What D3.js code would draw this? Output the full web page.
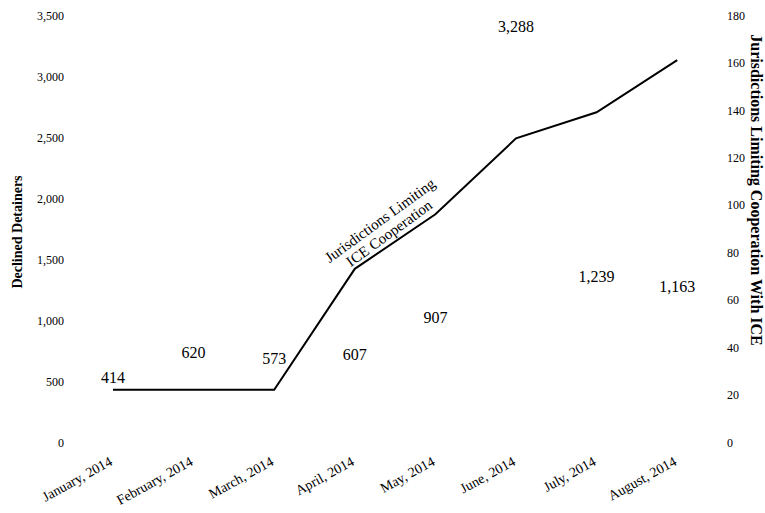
<!DOCTYPE html>
<html>
<head>
<meta charset="utf-8">
<script src="https://cdn.jsdelivr.net/npm/d3@7"></script>
<style>
  html, body { margin: 0; padding: 0; background: #fff; }
  svg { display: block; }
  text { font-family: "Liberation Serif", "DejaVu Serif", serif; fill: #000; }
</style>
</head>
<body>
<svg id="chart" width="765" height="513"></svg>
<script>
const months = ["January, 2014", "February, 2014", "March, 2014", "April, 2014",
                "May, 2014", "June, 2014", "July, 2014", "August, 2014"];
const declinedDetainers = [414, 620, 573, 607, 907, 3288, 1239, 1163];
const jurisdictions = [22, 22, 22, 73, 96, 128, 139, 161];
const leftTicks = [0, 500, 1000, 1500, 2000, 2500, 3000, 3500];
const rightTicks = [0, 20, 40, 60, 80, 100, 120, 140, 160, 180];
const leftTitle = "Declined Detainers";
const rightTitle = "Jurisdictions Limiting Cooperation With ICE";
const lineNote = ["Jurisdictions Limiting", "ICE Cooperation"];

const svg = d3.select("#chart");
const plotTop = 15, plotBottom = 442;

const x = d3.scaleBand().domain(months).range([72.7, 717.5]);
const yL = d3.scaleLinear().domain([0, 3500]).range([plotBottom, plotTop]);
const yR = d3.scaleLinear().domain([0, 180]).range([plotBottom, plotTop]);
const fmt = d3.format(",");

// left axis
const gL = svg.append("g").attr("transform", "translate(64,0)")
  .call(d3.axisLeft(yL).tickValues(leftTicks).tickFormat(fmt).tickSize(0).tickPadding(0));
gL.select(".domain").remove();
gL.selectAll("text").style("font-family", '"Liberation Serif", serif').style("font-size", "12px").attr("dy", "0.35em");

// right axis
const gR = svg.append("g").attr("transform", "translate(727,0)")
  .call(d3.axisRight(yR).tickValues(rightTicks).tickSize(0).tickPadding(0));
gR.select(".domain").remove();
gR.selectAll("text").style("font-family", '"Liberation Serif", serif').style("font-size", "12px").attr("dy", "0.35em");

// x axis labels
const gX = svg.append("g").attr("transform", `translate(0,${plotBottom})`)
  .call(d3.axisBottom(x).tickSize(0).tickPadding(0));
gX.select(".domain").remove();
gX.selectAll("text")
  .style("font-family", '"Liberation Serif", serif').style("font-size", "14px")
  .attr("text-anchor", "end")
  .attr("transform", "translate(-2,18) rotate(-29)")
  .attr("dy", "0.35em").attr("y", 0);

// titles
svg.append("text")
  .attr("transform", `translate(22,232) rotate(-90)`)
  .attr("text-anchor", "middle")
  .style("font-size", "14px").style("font-weight", "bold")
  .text(leftTitle);

svg.append("text")
  .attr("transform", `translate(751,190) rotate(90)`)
  .attr("text-anchor", "middle")
  .style("font-size", "16px").style("font-weight", "bold")
  .text(rightTitle);

// value labels (bars invisible)
svg.append("g").selectAll("text").data(declinedDetainers).join("text")
  .attr("x", (d, i) => x(months[i]) + x.bandwidth() / 2)
  .attr("y", d => yL(d) - 14)
  .attr("dy", "0.35em")
  .attr("text-anchor", "middle")
  .style("font-size", "16px")
  .text(d => fmt(d));

// line
const line = d3.line()
  .x((d, i) => x(months[i]) + x.bandwidth() / 2)
  .y(d => yR(d));
svg.append("path").datum(jurisdictions)
  .attr("d", line)
  .attr("fill", "none").attr("stroke", "#000").attr("stroke-width", 2);

// annotation along the line
const ax = (x(months[3]) + x(months[4])) / 2 + x.bandwidth() / 2;
const ay = (yR(jurisdictions[3]) + yR(jurisdictions[4])) / 2;
const note = svg.append("text")
  .attr("transform", `translate(${ax - 10},${ay - 14}) rotate(-36)`)
  .attr("text-anchor", "middle")
  .style("font-size", "15px");
note.selectAll("tspan").data(lineNote).join("tspan")
  .attr("x", 0).attr("dy", (d, i) => i === 0 ? "-0.25em" : "1.05em")
  .text(d => d);
</script>
</body>
</html>
